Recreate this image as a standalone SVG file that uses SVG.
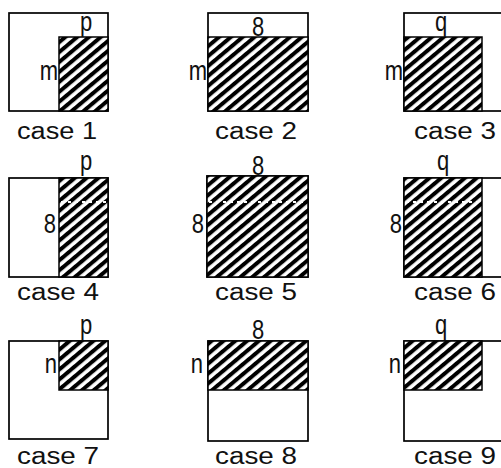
<svg xmlns="http://www.w3.org/2000/svg" width="501" height="468" viewBox="0 0 501 468">
<defs>
<pattern id="h" patternUnits="userSpaceOnUse" width="20" height="7.6" patternTransform="rotate(-40)">
<rect width="20" height="7.6" fill="#fff"/>
<rect width="20" height="4" fill="#000"/>
</pattern>
</defs>
<style>
.o{fill:#fff;stroke:#000;stroke-width:1.7}
.hz{fill:url(#h);stroke:#000;stroke-width:1.5}
.d{stroke:#fff;stroke-width:1.8;stroke-dasharray:3 4;fill:none}
.lbl{font-family:"Liberation Sans",Arial,sans-serif;font-size:22px;fill:#111}
.cap{font-family:"Liberation Sans",Arial,sans-serif;font-size:22px;fill:#111}
</style>
<rect width="501" height="468" fill="#fff"/>

<g id="case1">
<rect class="o" x="9" y="13" width="99" height="98"/>
<rect class="hz" x="59" y="37" width="49" height="74"/>
<text class="lbl" text-anchor="middle" transform="translate(86,31) scale(1,1.25)">p</text>
<text class="lbl" text-anchor="end" transform="translate(58,80) scale(1,1.25)">m</text>
<text class="cap" textLength="80" lengthAdjust="spacingAndGlyphs" transform="translate(17,139) scale(1,1.1)">case 1</text>
</g>

<g id="case2">
<rect class="o" x="208" y="13" width="100" height="98"/>
<rect class="hz" x="208" y="37" width="100" height="74"/>
<text class="lbl" text-anchor="middle" transform="translate(258,36) scale(1,1.25)">8</text>
<text class="lbl" text-anchor="end" transform="translate(207,80) scale(1,1.25)">m</text>
<text class="cap" textLength="82" lengthAdjust="spacingAndGlyphs" transform="translate(215,139) scale(1,1.1)">case 2</text>
</g>

<g id="case3">
<rect class="o" x="404" y="13" width="110" height="98"/>
<rect class="hz" x="404" y="37" width="78" height="74"/>
<text class="lbl" text-anchor="middle" transform="translate(441,31) scale(1,1.25)">q</text>
<text class="lbl" text-anchor="end" transform="translate(403,80) scale(1,1.25)">m</text>
<text class="cap" textLength="82" lengthAdjust="spacingAndGlyphs" transform="translate(414,139) scale(1,1.1)">case 3</text>
</g>

<g id="case4">
<rect class="o" x="9" y="178" width="99" height="99"/>
<rect class="hz" x="59" y="178" width="49" height="99"/>
<line class="d" x1="61" y1="202" x2="107" y2="202"/>
<text class="lbl" text-anchor="middle" transform="translate(86,170) scale(1,1.25)">p</text>
<text class="lbl" text-anchor="end" transform="translate(56,233) scale(1,1.25)">8</text>
<text class="cap" textLength="82" lengthAdjust="spacingAndGlyphs" transform="translate(17,300) scale(1,1.1)">case 4</text>
</g>

<g id="case5">
<rect class="o" x="207" y="176" width="101" height="101"/>
<rect class="hz" x="207" y="176" width="101" height="101"/>
<line class="d" x1="209" y1="202" x2="307" y2="202"/>
<text class="lbl" text-anchor="middle" transform="translate(258,175) scale(1,1.25)">8</text>
<text class="lbl" text-anchor="end" transform="translate(204,233) scale(1,1.25)">8</text>
<text class="cap" textLength="82" lengthAdjust="spacingAndGlyphs" transform="translate(215,300) scale(1,1.1)">case 5</text>
</g>

<g id="case6">
<rect class="o" x="404" y="178" width="110" height="99"/>
<rect class="hz" x="404" y="178" width="78" height="99"/>
<line class="d" x1="406" y1="202" x2="481" y2="202"/>
<text class="lbl" text-anchor="middle" transform="translate(443,170) scale(1,1.25)">q</text>
<text class="lbl" text-anchor="end" transform="translate(402,233) scale(1,1.25)">8</text>
<text class="cap" textLength="82" lengthAdjust="spacingAndGlyphs" transform="translate(414,300) scale(1,1.1)">case 6</text>
</g>

<g id="case7">
<rect class="o" x="9" y="341" width="99" height="98"/>
<rect class="hz" x="59" y="341" width="49" height="49"/>
<text class="lbl" text-anchor="middle" transform="translate(86,334) scale(1,1.25)">p</text>
<text class="lbl" text-anchor="end" transform="translate(57,373) scale(1,1.25)">n</text>
<text class="cap" textLength="82" lengthAdjust="spacingAndGlyphs" transform="translate(17,464) scale(1,1.1)">case 7</text>
</g>

<g id="case8">
<rect class="o" x="208" y="341" width="100" height="100"/>
<rect class="hz" x="208" y="341" width="100" height="49"/>
<text class="lbl" text-anchor="middle" transform="translate(258,339) scale(1,1.25)">8</text>
<text class="lbl" text-anchor="end" transform="translate(203,373) scale(1,1.25)">n</text>
<text class="cap" textLength="82" lengthAdjust="spacingAndGlyphs" transform="translate(215,464) scale(1,1.1)">case 8</text>
</g>

<g id="case9">
<rect class="o" x="404" y="341" width="110" height="100"/>
<rect class="hz" x="404" y="341" width="78" height="49"/>
<text class="lbl" text-anchor="middle" transform="translate(441,334) scale(1,1.25)">q</text>
<text class="lbl" text-anchor="end" transform="translate(401,373) scale(1,1.25)">n</text>
<text class="cap" textLength="82" lengthAdjust="spacingAndGlyphs" transform="translate(414,464) scale(1,1.1)">case 9</text>
</g>
</svg>
